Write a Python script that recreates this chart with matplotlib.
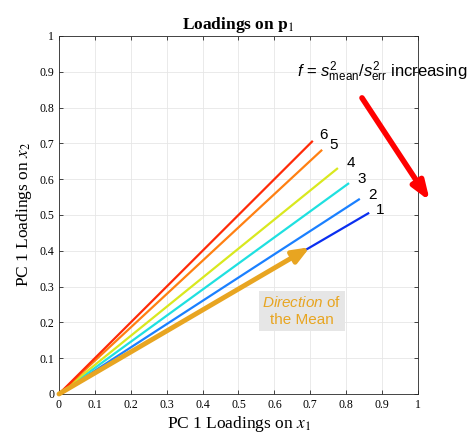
import matplotlib
matplotlib.use("Agg")
import matplotlib.pyplot as plt
import numpy as np

plt.rcParams["mathtext.fontset"] = "custom"
plt.rcParams["mathtext.rm"] = "Liberation Sans"
plt.rcParams["mathtext.it"] = "Liberation Sans:italic"
plt.rcParams["mathtext.bf"] = "Liberation Sans:bold"

# Loading end points for each f level
labels = ["1", "2", "3", "4", "5", "6"]
x_end = [0.864, 0.838, 0.808, 0.777, 0.733, 0.707]
y_end = [0.506, 0.545, 0.589, 0.631, 0.682, 0.707]
colors = ["#0a2ff0", "#1a80ff", "#1fe0e0", "#d9e81f", "#ff8012", "#ff2a08"]

# Direction of the mean
mean_end = [0.699, 0.410]

fig = plt.figure(figsize=(4.73, 4.34), dpi=100)
ax = fig.add_axes([0.1247, 0.0922, 0.759, 0.825])

for xe, ye, c in zip(x_end, y_end, colors):
    ax.plot([0, xe], [0, ye], color=c, lw=1.6, solid_capstyle="butt")

ax.annotate("", xy=(mean_end[0], mean_end[1]), xytext=(0, 0),
            arrowprops=dict(arrowstyle="-|>,head_length=1.0,head_width=0.4",
                            color="#e8a521", lw=3.5, shrinkA=0, shrinkB=0))

# line number labels
lab_pos = [(0.894, 0.515), (0.874, 0.556), (0.843, 0.601), (0.813, 0.646), (0.765, 0.696), (0.737, 0.723)]
for (lx, ly), t in zip(lab_pos, labels):
    ax.text(lx, ly, t, fontsize=11, family="Liberation Sans", ha="center", va="center")

ax.text(0.663, 0.9, r"$f$ = $s^2_{\mathrm{mean}}$/$s^2_{\mathrm{err}}$ increasing",
        fontsize=12, family="Liberation Sans", ha="left", va="center", clip_on=False)
ax.annotate("", xy=(1.033, 0.539), xytext=(0.844, 0.827), annotation_clip=False,
            arrowprops=dict(arrowstyle="-|>,head_length=1.1,head_width=0.4",
                            color="#ff0000", lw=4, shrinkA=0, shrinkB=0))

ax.text(0.677, 0.232, r"$\mathit{Direction}$ of" + "\nthe Mean", fontsize=11,
        family="Liberation Sans", color="#e8a521", ha="center", va="center",
        linespacing=1.3,
        bbox=dict(boxstyle="square,pad=0.25", facecolor="#e6e6e6", edgecolor="none"))

ax.set_xlim(0, 1)
ax.set_ylim(0, 1)
ticks = np.round(np.arange(0, 1.01, 0.1), 1)
ax.set_xticks(ticks)
ax.set_yticks(ticks)
ax.set_xticklabels([f"{t:g}" for t in ticks], family="Liberation Serif", fontsize=8.5)
ax.set_yticklabels([f"{t:g}" for t in ticks], family="Liberation Serif", fontsize=8.5)
ax.tick_params(direction="in", top=True, right=True, length=3, width=0.6, color="#262626")
ax.grid(True, color="#e6e6e6", lw=0.6)
ax.set_axisbelow(True)
for s in ax.spines.values():
    s.set_color("#262626")
    s.set_linewidth(0.6)

ax.set_xlabel("PC 1 Loadings on $x_1$", family="Liberation Serif", fontsize=12.5,
              labelpad=2, math_fontfamily="stix")
ax.set_ylabel("PC 1 Loadings on $x_2$", family="Liberation Serif", fontsize=12.5,
              labelpad=4, math_fontfamily="stix")
ax.set_title(r"Loadings on $\mathbf{p}_1$", family="Liberation Serif", fontweight="bold",
             fontsize=12.5, pad=5, math_fontfamily="stix")

fig.savefig("out.png", dpi=100)
